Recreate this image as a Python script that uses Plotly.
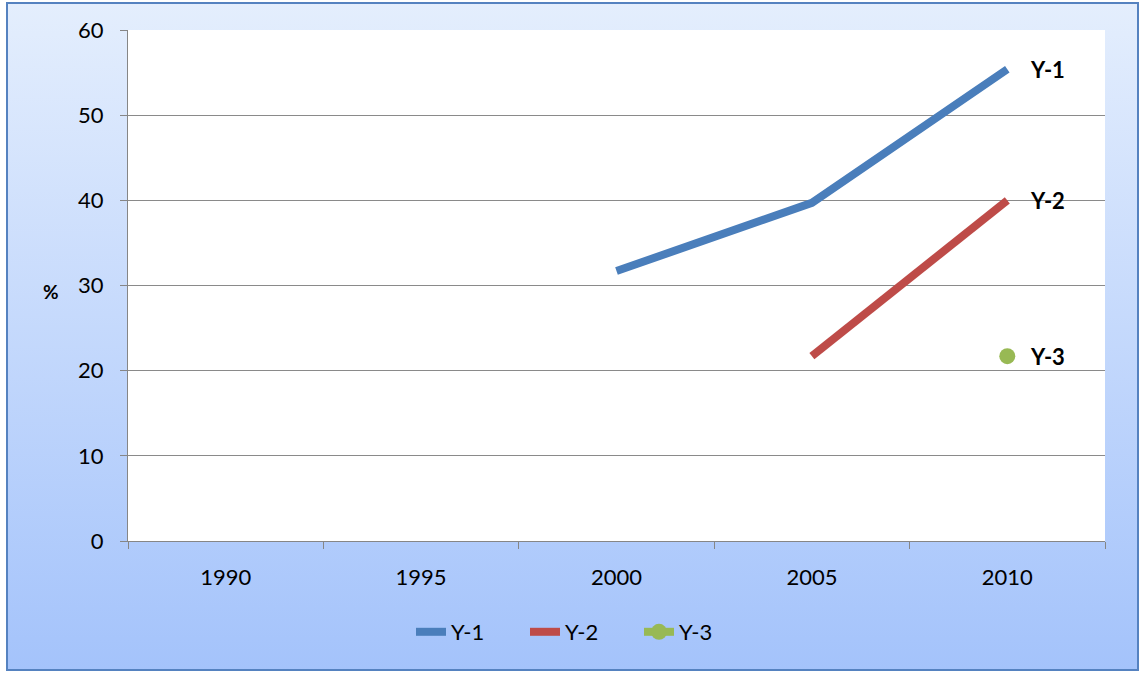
import base64
import plotly.graph_objects as go

years = ["1990", "1995", "2000", "2005", "2010"]
y1 = [None, None, 31.7, 39.7, 55.4]
y2 = [None, None, None, 21.7, 40.0]
y3 = [None, None, None, None, 21.7]
names = ["Y-1", "Y-2", "Y-3"]
colors = ["#4a7ebb", "#be4b48", "#98b954"]

W, H = 1144, 675
L, R, T, B = 128, 1105, 30, 541
pw, ph = R - L, B - T
FAM = "Lato, Open Sans, sans-serif"

def px_x(p):
    return (p - L) / pw

def px_y(p):
    return (B - p) / ph

fig = go.Figure()
fig.add_trace(go.Scatter(x=years, y=y1, name=names[0], mode="lines",
                         line=dict(color=colors[0], width=8)))
fig.add_trace(go.Scatter(x=years, y=y2, name=names[1], mode="lines",
                         line=dict(color=colors[1], width=8)))
fig.add_trace(go.Scatter(x=years, y=y3, name=names[2], mode="lines+markers",
                         line=dict(color=colors[2], width=8),
                         marker=dict(color=colors[2], size=16)))

last_idx = len(years) - 1
for nm, ys in zip(names, [y1, y2, y3]):
    fig.add_annotation(x=last_idx, y=ys[-1], xref="x", yref="y", text="<b>%s</b>" % nm,
                       showarrow=False, xanchor="left", yanchor="middle", xshift=21,
                       font=dict(size=22, color="black", family=FAM))

fig.add_annotation(xref="paper", yref="paper", x=px_x(51), y=px_y(291), text="<b>%</b>",
                   showarrow=False, xanchor="center", yanchor="middle",
                   font=dict(size=19, color="black", family=FAM))

svg = ('<svg xmlns="http://www.w3.org/2000/svg" width="100" height="100" viewBox="0 0 100 100" '
       'preserveAspectRatio="none"><defs><linearGradient id="g" x1="0" y1="0" x2="0" y2="1">'
       '<stop offset="0" stop-color="#e4eefd"/><stop offset="1" stop-color="#a4c3fb"/>'
       '</linearGradient></defs><rect width="100" height="100" fill="url(#g)"/></svg>')
src = "data:image/svg+xml;base64," + base64.b64encode(svg.encode()).decode()

fx0, fx1, fy0, fy1 = 7, 1138, 3, 670
fig.add_layout_image(dict(source=src, xref="paper", yref="paper",
                          x=px_x(fx0), y=px_y(fy0), sizex=(fx1 - fx0) / pw, sizey=(fy1 - fy0) / ph,
                          xanchor="left", yanchor="top", sizing="stretch", layer="below"))
fig.add_shape(type="rect", xref="paper", yref="paper", x0=px_x(fx0), x1=px_x(fx1),
              y0=px_y(fy1), y1=px_y(fy0), line=dict(color="#5582c0", width=2),
              fillcolor="rgba(0,0,0,0)", layer="below")
fig.add_shape(type="rect", xref="x domain", yref="y domain", x0=0, x1=1, y0=0, y1=1,
              line=dict(width=0), fillcolor="white", layer="below")

font = dict(family=FAM, size=22, color="black")
fig.update_layout(
    width=W, height=H,
    margin=dict(l=L, r=W - R, t=T, b=H - B),
    paper_bgcolor="white", plot_bgcolor="white",
    font=font,
    showlegend=True,
    legend=dict(orientation="h", x=px_x(411), xanchor="left", y=px_y(632), yanchor="middle",
                entrywidth=69, entrywidthmode="pixels",
                bgcolor="rgba(0,0,0,0)", font=dict(size=22, family=FAM)),
    xaxis=dict(type="category", range=[-0.5, 4.5], tickson="boundaries", ticks="outside",
               ticklen=7, tickcolor="#868686", showline=True, linecolor="#868686", linewidth=1,
               showgrid=False, ticklabelstandoff=17, tickfont=font, fixedrange=True),
    yaxis=dict(range=[0, 60], dtick=10, ticks="outside", ticklen=7, tickcolor="#868686",
               showline=True, linecolor="#868686", linewidth=1, showgrid=True,
               gridcolor="#8a8a8a", gridwidth=1, zeroline=False, ticklabelstandoff=12,
               tickfont=font, fixedrange=True),
)

fig.write_html("out.html", config={"displayModeBar": False},
               post_script="document.body.style.margin='0';")
